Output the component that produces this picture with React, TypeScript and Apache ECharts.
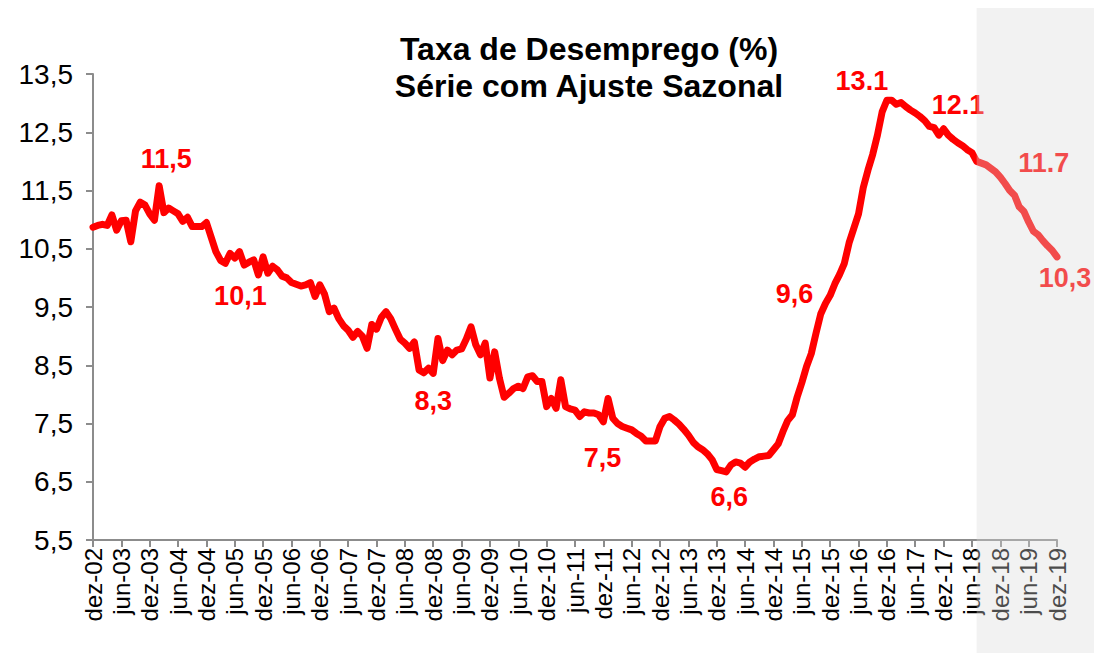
import React, { useEffect, useRef } from 'react';
import * as echarts from 'echarts';

const FONT = "'Liberation Sans', Arial, sans-serif";

// Monthly seasonally-adjusted unemployment rate (%)
const rate2002 = [10.87]; // dez
const rate2003 = [10.9, 10.92, 10.9, 11.08, 10.82, 10.98, 10.99, 10.62, 11.15, 11.3, 11.25, 11.1];
const rate2004 = [10.99, 11.58, 11.12, 11.2, 11.15, 11.1, 10.97, 11.04, 10.88, 10.88, 10.88, 10.95];
const rate2005 = [10.7, 10.45, 10.3, 10.25, 10.42, 10.34, 10.45, 10.22, 10.27, 10.31, 10.05, 10.36];
const rate2006 = [10.08, 10.2, 10.14, 10.03, 10.0, 9.92, 9.89, 9.86, 9.88, 9.92, 9.68, 9.88];
const rate2007 = [9.72, 9.42, 9.48, 9.3, 9.18, 9.1, 8.98, 9.08, 9.0, 8.79, 9.2, 9.12];
const rate2008 = [9.32, 9.42, 9.3, 9.12, 8.95, 8.88, 8.79, 8.9, 8.42, 8.37, 8.45, 8.36];
const rate2009 = [8.96, 8.58, 8.76, 8.68, 8.76, 8.78, 8.95, 9.16, 8.85, 8.68, 8.88, 8.28];
const rate2010 = [8.73, 8.28, 7.95, 8.02, 8.1, 8.14, 8.1, 8.3, 8.32, 8.22, 8.22, 7.79];
const rate2011 = [7.93, 7.76, 8.25, 7.79, 7.75, 7.73, 7.62, 7.7, 7.68, 7.68, 7.65, 7.53];
const rate2012 = [7.93, 7.59, 7.5, 7.45, 7.42, 7.39, 7.33, 7.28, 7.2, 7.2, 7.2, 7.45];
const rate2013 = [7.59, 7.62, 7.56, 7.49, 7.4, 7.3, 7.18, 7.1, 7.05, 6.98, 6.88, 6.71];
const rate2014 = [6.69, 6.67, 6.79, 6.84, 6.82, 6.75, 6.84, 6.89, 6.93, 6.94, 6.95, 7.05];
const rate2015 = [7.15, 7.36, 7.55, 7.65, 7.95, 8.2, 8.48, 8.7, 9.05, 9.38, 9.56, 9.7];
const rate2016 = [9.9, 10.06, 10.25, 10.6, 10.85, 11.1, 11.55, 11.85, 12.12, 12.45, 12.85, 13.05];
const rate2017 = [13.05, 12.98, 13.01, 12.94, 12.88, 12.83, 12.77, 12.7, 12.6, 12.58, 12.45, 12.56];
const rate2018 = [12.45, 12.38, 12.32, 12.27, 12.2, 12.15, 12.0, 11.97, 11.94, 11.88, 11.82, 11.73];
const rate2019 = [11.62, 11.5, 11.42, 11.22, 11.14, 10.96, 10.8, 10.74, 10.64, 10.55, 10.47, 10.36];

const monthNames = ['jan', 'fev', 'mar', 'abr', 'mai', 'jun', 'jul', 'ago', 'set', 'out', 'nov', 'dez'];
const years = ['03', '04', '05', '06', '07', '08', '09', '10', '11', '12', '13', '14', '15', '16', '17', '18', '19'];
const categories: string[] = ['dez-02'];
years.forEach((y) => monthNames.forEach((m) => categories.push(`${m}-${y}`)));

const rate = [
  ...rate2002, ...rate2003, ...rate2004, ...rate2005, ...rate2006, ...rate2007,
  ...rate2008, ...rate2009, ...rate2010, ...rate2011, ...rate2012, ...rate2013,
  ...rate2014, ...rate2015, ...rate2016, ...rate2017, ...rate2018, ...rate2019,
];

const yTicks = [5.5, 6.5, 7.5, 8.5, 9.5, 10.5, 11.5, 12.5, 13.5];

// Annotated points: category label and the text shown
const annotCats = ['fev-04', 'nov-05', 'dez-08', 'mar-12', 'fev-14', 'nov-15', 'dez-16', 'jun-18', 'fev-19', 'dez-19'];
const annotText = ['11,5', '10,1', '8,3', '7,5', '6,6', '9,6', '13.1', '12.1', '11.7', '10,3'];
const annotOffset = [[7, -27], [-18, 21], [0, 28], [-15, 34], [3, 25], [-31, -10], [-25, -19], [-14, -48], [34, -28], [8, 21]];

const shadeStart = 'jul-18';

export default function App() {
  const ref = useRef<HTMLDivElement>(null);
  useEffect(() => {
    if (!ref.current) return;
    const chart = echarts.init(ref.current, null, { renderer: 'svg' });
    const axisColor = '#8c8c8c';
    chart.setOption({
      animation: false,
      backgroundColor: '#ffffff',
      title: {
        text: 'Taxa de Desemprego (%)\nSérie com Ajuste Sazonal',
        left: 584,
        top: 25,
        textAlign: 'center',
        textStyle: { fontFamily: FONT, fontSize: 32, fontWeight: 'bold', color: '#000', lineHeight: 37 },
      },
      grid: { left: 93, right: 37, top: 74, bottom: 113 },
      xAxis: {
        type: 'category',
        data: categories,
        boundaryGap: false,
        axisLine: { lineStyle: { color: axisColor, width: 2 } },
        axisTick: { interval: 5, length: 7, lineStyle: { color: axisColor, width: 2 } },
        axisLabel: { interval: 5, rotate: 90, fontFamily: FONT, fontSize: 24, color: '#000', margin: 8 },
        splitLine: { show: false },
      },
      yAxis: {
        type: 'value',
        min: 5.5,
        max: 13.5,
        interval: 0.5,
        axisLine: { show: true, lineStyle: { color: axisColor, width: 2 } },
        axisTick: { show: true, length: 7, customValues: yTicks, lineStyle: { color: axisColor, width: 2 } },
        axisLabel: {
          customValues: yTicks,
          fontFamily: FONT,
          fontSize: 28,
          color: '#000',
          margin: 20,
          formatter: (v: number) => v.toFixed(1).replace('.', ','),
        },
        splitLine: { show: false },
      },
      series: [
        {
          type: 'line',
          data: rate,
          showSymbol: false,
          lineStyle: { color: '#ff0000', width: 7, join: 'round', cap: 'round' },
          z: 3,
        },
        {
          type: 'scatter',
          symbolSize: 0,
          z: 4,
          itemStyle: { opacity: 1, color: '#ff0000' },
          data: annotCats.map((c, k) => ({
            value: [c, rate[categories.indexOf(c)]],
            label: { formatter: annotText[k], offset: annotOffset[k] },
          })),
          label: {
            show: true,
            position: 'inside',
            fontFamily: FONT,
            fontSize: 27,
            fontWeight: 'bold',
            color: '#ff0000',
            opacity: 1,
          },
        },
      ],
    });
    const x0 = chart.convertToPixel({ xAxisIndex: 0 }, shadeStart) as number;
    chart.setOption({
      graphic: [
        {
          type: 'rect',
          z: 100,
          silent: true,
          shape: { x: x0, y: 8, width: 1094 - x0, height: 653 - 8 },
          style: { fill: 'rgba(218,218,218,0.35)' },
        },
      ],
    });
    return () => chart.dispose();
  }, []);
  return <div ref={ref} style={{ position: 'absolute', left: 0, top: 0, width: 1094, height: 653 }} />;
}
